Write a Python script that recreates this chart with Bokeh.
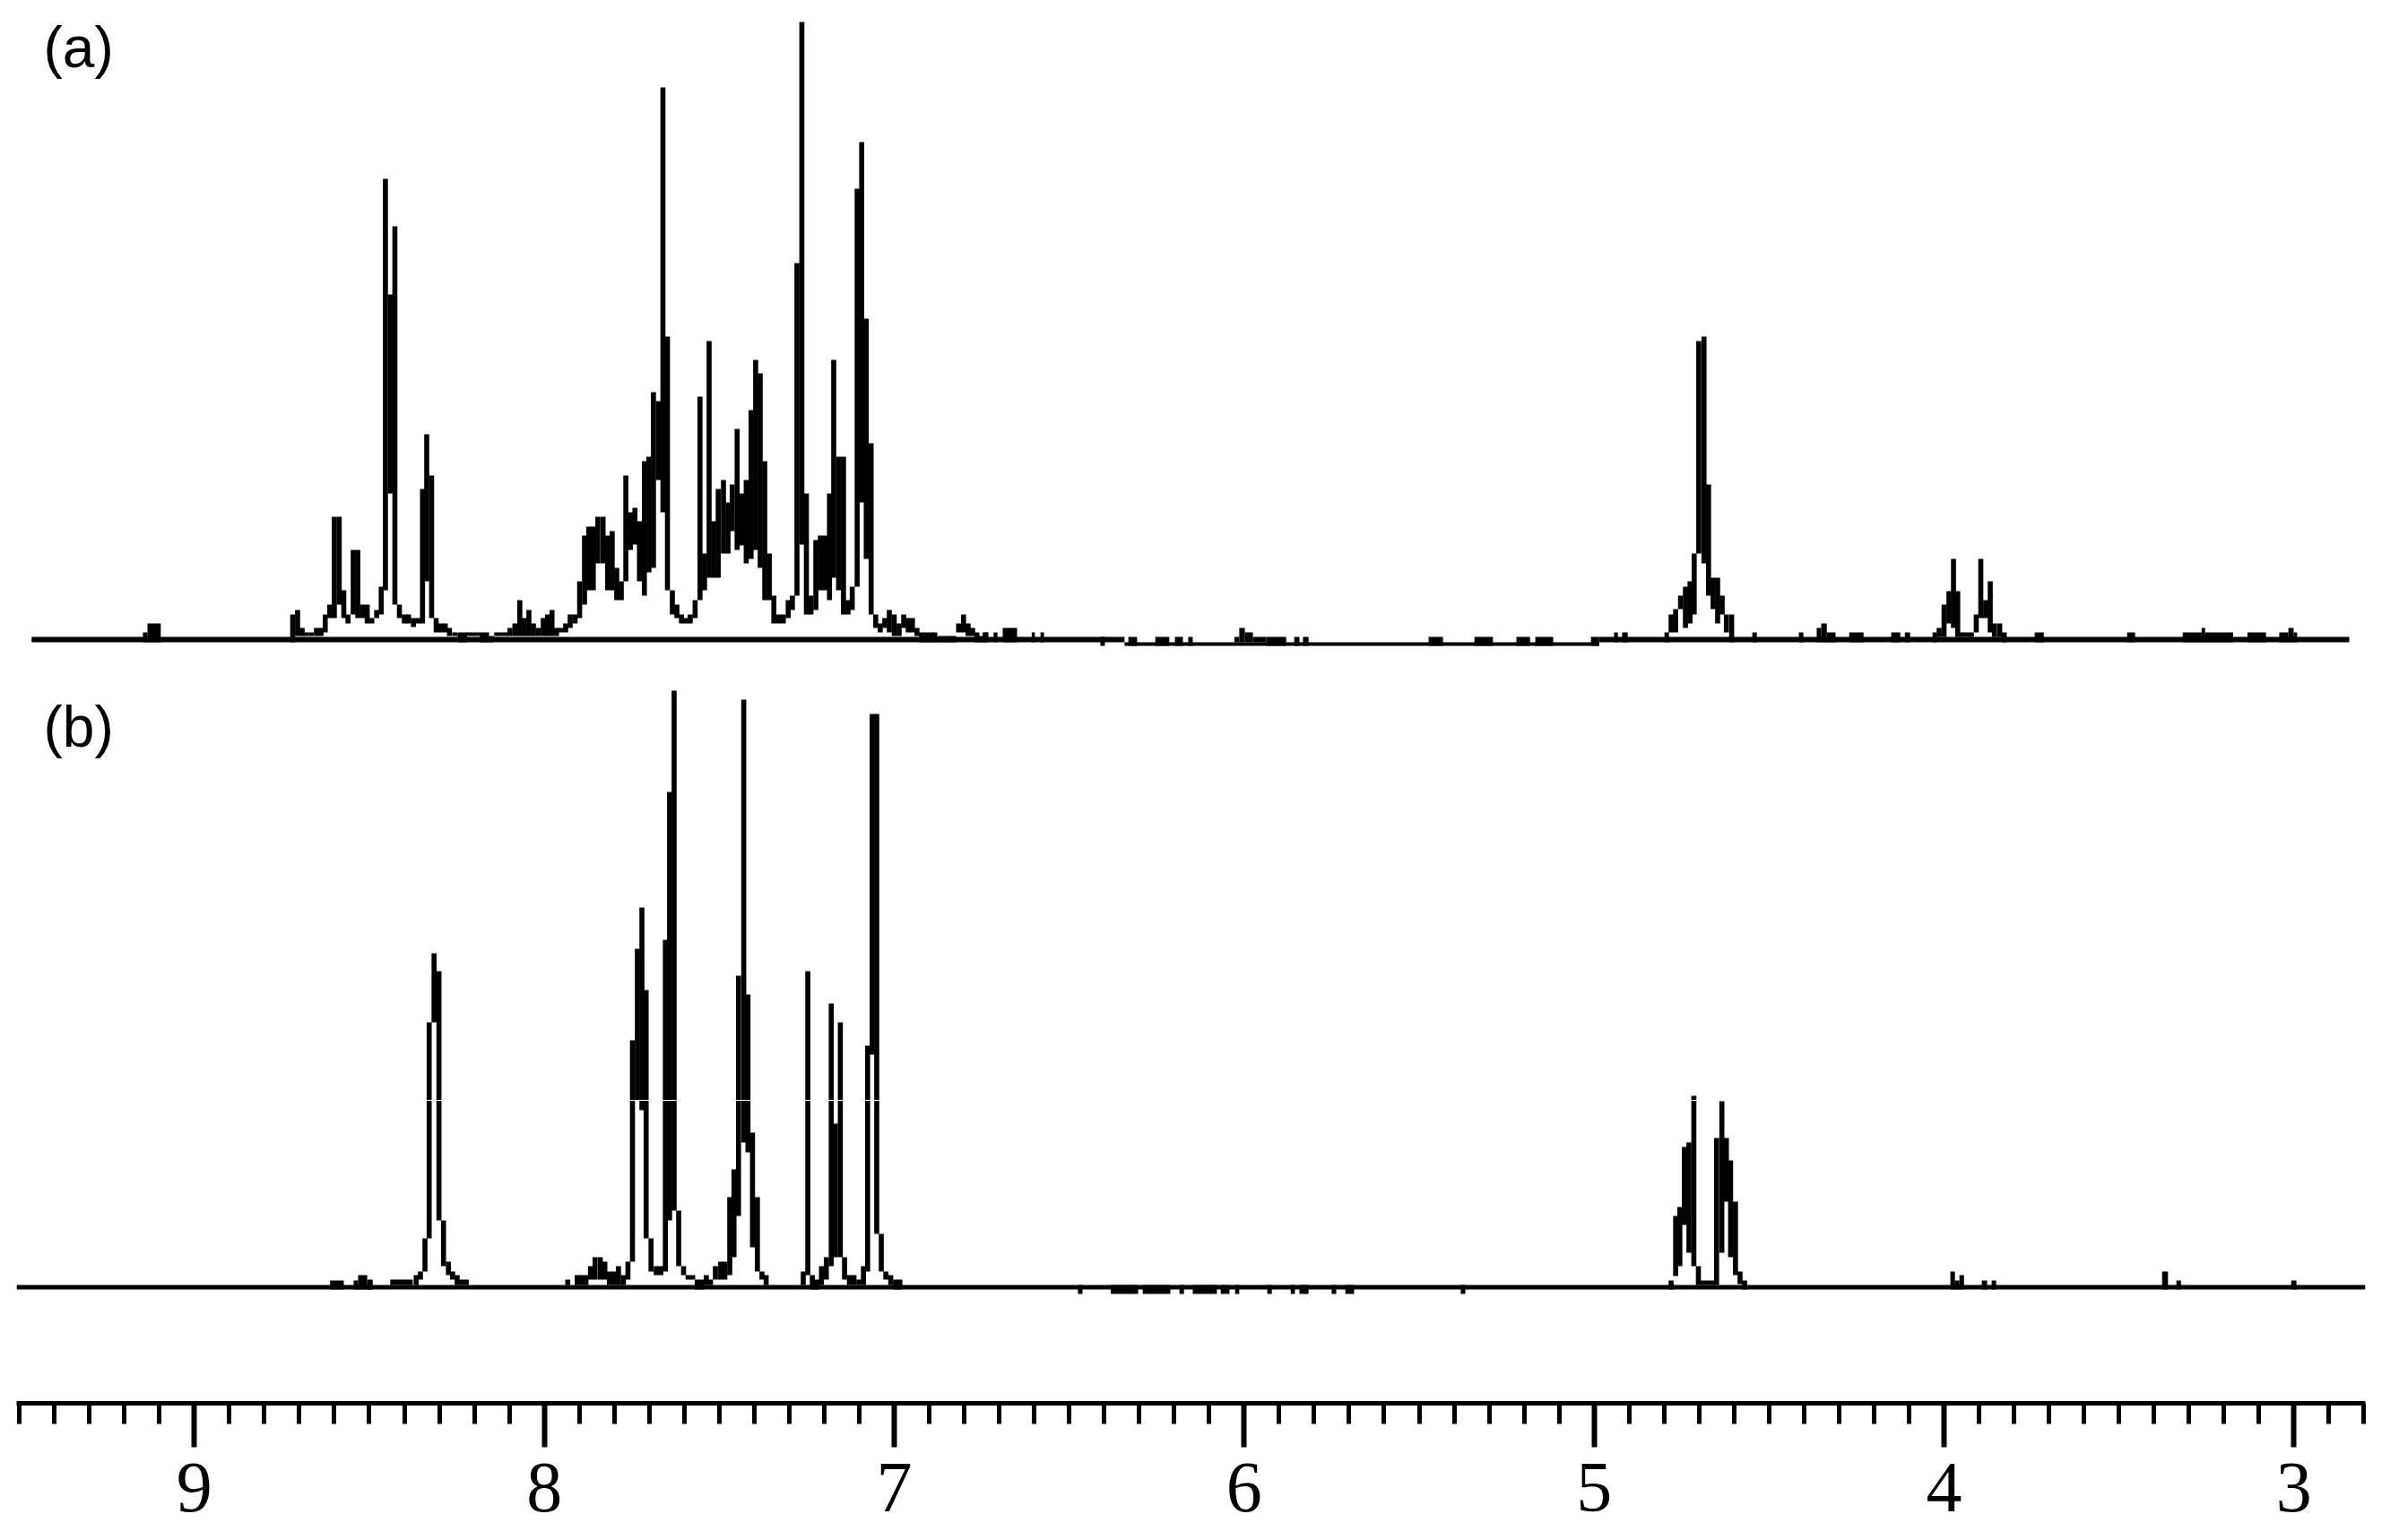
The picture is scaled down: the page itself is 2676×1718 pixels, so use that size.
from bokeh.plotting import figure
from bokeh.models import Range1d, FixedTicker
from bokeh.embed import file_html
from bokeh.resources import INLINE
from bokeh.core.properties import value

# ---- spectrum (a): resolved columns (chemical shift, upper and lower trace limit) ----
a_ppm = [
    8.719,8.705,8.692,8.680,8.666,8.651,8.638,8.626,8.613,8.600,
    8.586,8.573,8.561,8.546,8.533,8.519,8.506,8.493,8.479,8.466,
    8.454,8.440,8.427,8.414,8.400,8.388,8.374,8.360,8.348,8.336,
    8.322,8.309,8.296,8.283,8.271,8.256,8.241,8.228,8.216,8.203,
    8.190,8.177,
    8.165,8.151,8.136,8.123,8.110,8.098,8.084,8.070,8.057,8.044,
    8.031,8.017,8.003,7.991,7.978,7.965,7.952,7.939,7.926,7.912,
    7.899,7.885,7.873,7.860,7.847,7.832,7.819,7.806,7.793,7.780,
    7.767,7.754,7.741,7.728,7.714,7.701,7.688,7.674,7.661,7.648,
    7.634,7.621,7.608,7.595,7.583,7.569,7.555,7.542,7.529,7.516,
    7.503,7.488,7.475,7.463,7.449,7.436,7.423,7.409,7.396,7.383,
    7.370,7.357,7.344,7.330,7.317,7.303,7.291,7.278,7.264,7.251,
    7.238,7.224,7.211,7.198,7.185,7.173,7.159,7.145,7.132,7.120,
    7.106,7.093,7.080,7.066,7.053,7.040,7.027,7.014,7.000,6.986,
    6.973,6.960,6.948,6.935,6.922,6.909,6.896,6.884,6.868,6.855,
    6.842,6.830,6.816,6.802,6.789,6.776,6.764,6.751,6.740,
    4.780,4.767,4.753,4.739,4.726,4.714,4.701,4.686,4.673,4.660,
    4.647,4.634,4.622,4.607,
    4.014,4.000,3.986,3.973,3.961,3.948,3.935,3.922,3.908,3.895,
    3.881,3.868,3.856,3.841,3.828,
]
a_hi = [
    28,33,13,8,8,13,13,28,39,137,
    137,55,28,100,100,39,39,24,33,59,
    514,385,461,39,28,28,24,24,168,229,
    183,24,18,18,13,8,8,8,8,8,
    8,8,
    8,4,8,8,8,13,18,44,24,33,
    18,13,24,28,33,13,13,18,28,28,
    65,116,126,126,137,137,116,121,80,65,
    183,142,147,132,199,204,276,266,616,338,
    55,39,28,24,28,44,271,96,333,132,
    168,178,153,173,235,163,178,256,312,297,
    199,96,49,28,28,44,49,420,689,163,
    49,111,116,116,163,312,204,204,44,59,
    503,555,358,219,28,18,24,33,28,18,
    28,24,24,13,8,8,8,8,4,4,
    4,4,18,28,18,13,8,4,8,
    28,34,49,59,65,96,333,338,173,69,
    69,49,28,28,
    13,39,54,90,54,8,8,8,28,90,
    44,65,18,18,8,
]
a_lo = [
    -3,4,4,4,4,4,4,8,24,24,
    39,24,18,28,24,24,18,18,24,28,
    55,163,39,24,18,18,14,18,18,65,
    24,8,8,8,4,4,-3,-3,4,4,
    4,-3,
    -3,-3,4,4,4,4,4,4,4,4,
    4,4,4,4,4,4,8,8,13,18,
    24,39,55,55,85,85,55,55,44,44,
    65,100,106,65,49,75,80,178,142,55,
    28,24,18,18,18,24,44,55,69,69,
    69,96,96,121,100,105,85,90,100,80,
    44,44,18,18,18,24,33,49,106,28,
    28,33,55,55,44,69,55,28,28,33,
    59,153,90,28,13,8,13,8,4,4,
    13,8,8,4,-3,-3,-3,-3,-3,-3,
    -3,-3,8,8,4,4,-3,-3,-3,
    8,8,34,13,18,28,96,85,49,34,
    18,28,8,-3,
    3,3,18,13,3,3,3,3,8,24,
    24,8,3,3,-3,
]

# ---- spectrum (a): flat stretches of the trace, noise bumps and steps ----
a_run_start = [
    9.465,6.342,4.986,
    9.147,9.134,6.744,6.716,6.690,6.607,6.582,6.411,
    6.331,6.254,6.198,6.160,6.028,6.014,5.998,5.975,5.937,5.857,
    5.832,5.473,5.342,5.222,5.168,5.009,
    4.943,4.920,4.799,4.548,4.415,4.364,4.351,4.335,4.271,4.151,
    4.112,4.033,3.741,3.477,3.318,3.264,3.254,3.133,3.042,3.016,3.001,
]
a_run_end = [
    6.342,4.986,2.842,
    9.134,9.096,6.731,6.705,6.649,6.598,6.572,6.398,
    6.306,6.214,6.175,6.147,6.014,5.998,5.975,5.937,5.880,5.842,
    5.816,5.432,5.289,5.183,5.117,4.986,
    4.932,4.904,4.786,4.535,4.402,4.351,4.335,4.310,4.230,4.125,
    4.097,4.020,3.715,3.454,3.264,3.254,3.174,3.080,3.016,3.001,2.991,
]
a_run_hi = [
    3,-3,3,
    8,18,8,8,13,8,8,3,
    3,3,3,3,3,13,8,3,3,3,
    3,3,3,3,3,3,
    8,8,8,8,8,13,18,8,8,8,
    8,8,8,8,8,13,8,8,8,13,8,
]
a_run_lo = [
    -3,-7,-3,
    -3,-3,-3,-3,-3,-3,-3,-7,
    -7,-7,-7,-7,-3,-3,-3,-3,-7,-7,
    -7,-7,-7,-7,-7,-7,
    -3,-3,-3,-3,-3,-3,-3,-3,-3,-3,
    -3,-3,-3,-3,-3,-3,-3,-3,-3,-3,-3,
]

# ---- spectrum (b): resolved columns ----
b_ppm = [
    8.498,8.433,8.421,8.408,8.396,8.383,8.366,8.354,8.341,8.329,
    8.315,8.301,8.288,8.274,8.262,8.249,8.236,8.223,
    7.933,7.906,7.894,7.881,7.868,7.855,7.840,7.827,7.814,7.801,
    7.788,7.774,7.761,7.748,7.734,7.721,7.709,7.695,7.680,7.667,
    7.654,7.642,7.629,7.616,7.602,7.589,7.576,7.563,7.550,7.537,
    7.525,7.511,7.496,7.484,7.470,7.458,7.445,7.430,7.418,7.405,
    7.391,7.378,7.366,
    7.260,7.247,7.234,7.221,7.208,7.194,7.180,7.168,7.154,7.142,
    7.128,7.115,7.101,7.088,7.076,7.063,7.050,7.037,7.024,7.010,
    6.996,6.984,
    4.780,4.767,4.755,4.742,4.729,4.715,4.702,4.689,4.676,4.663,
    4.650,4.635,4.622,4.610,4.596,4.583,4.570,
]
b_hi = [
    8,8,8,8,8,8,13,17,54,295,
    372,352,74,28,17,13,8,8,
    8,13,13,13,23,33,33,28,17,17,
    23,13,28,275,377,423,331,54,23,23,
    387,552,665,85,23,13,13,8,8,13,
    8,23,28,28,100,131,347,655,326,172,
    100,17,13,
    17,352,13,8,23,33,316,182,295,33,
    13,13,8,23,269,639,639,59,17,13,
    8,8,
    7,79,89,156,161,213,23,7,7,7,
    166,207,166,141,95,17,7,
]
b_lo = [
    -3,2,2,2,2,2,2,8,17,54,
    295,74,23,13,8,2,2,2,
    2,2,2,2,8,8,8,8,2,2,
    2,2,8,28,208,197,54,17,13,13,
    17,74,85,23,13,8,8,-3,-3,2,
    2,8,8,8,13,33,79,161,150,44,
    17,8,2,
    2,13,-3,-3,2,8,23,33,33,8,
    2,2,2,2,17,259,59,17,8,2,
    -3,-3,
    -3,12,23,69,38,23,2,2,2,2,
    2,38,95,33,13,3,-3,
]

# ---- spectrum (b): flat stretches of the trace, noise bumps and dips ----
b_run_start = [
    9.508,
    8.612,8.545,8.532,8.506,
    6.475,6.381,6.290,6.185,6.147,6.067,6.026,5.934,5.867,5.842,
    5.750,5.711,5.381,
    3.982,3.969,3.956,3.892,3.864,3.377,3.336,3.008,
]
b_run_end = [
    2.796,
    8.573,8.532,8.506,8.491,
    6.462,6.303,6.211,6.172,6.078,6.042,6.014,5.921,5.855,5.816,
    5.737,5.686,5.368,
    3.969,3.956,3.943,3.877,3.851,3.360,3.323,2.993,
]
b_run_hi = [
    2,
    7,7,13,7,
    2,2,2,2,2,2,2,2,2,2,
    2,2,2,
    17,7,13,7,7,17,7,7,
]
b_run_lo = [
    -3,
    -3,-3,-3,-3,
    -8,-8,-8,-8,-8,-8,-8,-8,-8,-8,
    -8,-8,-8,
    -3,-3,-3,-3,-3,-3,-3,-3,
]

major_ticks = [3, 4, 5, 6, 7, 8, 9]
minor_ticks = [round(2.8 + 0.1 * i, 1) for i in range(68)]
panel_labels = ["(a)", "(b)"]

for name, n, others in [
    ("a", len(a_ppm), (a_hi, a_lo)),
    ("ar", len(a_run_start), (a_run_end, a_run_hi, a_run_lo)),
    ("b", len(b_ppm), (b_hi, b_lo)),
    ("br", len(b_run_start), (b_run_end, b_run_hi, b_run_lo)),
]:
    for o in others:
        assert len(o) == n, (name, n, len(o))

OFFSET_A, OFFSET_B = 852, 130
HALF = 0.0072

p = figure(width=2660, height=1702, output_backend="svg", toolbar_location=None,
           x_range=Range1d(9.508, 2.796), y_range=Range1d(0, 1557),
           y_axis_location=None, min_border_left=18, min_border_right=22,
           min_border_top=8, min_border_bottom=137, outline_line_color=None,
           background_fill_color="white", border_fill_color="white")
p.grid.visible = False

for ppm, hi, lo, s, e, rh, rl, off in [
    (a_ppm, a_hi, a_lo, a_run_start, a_run_end, a_run_hi, a_run_lo, OFFSET_A),
    (b_ppm, b_hi, b_lo, b_run_start, b_run_end, b_run_hi, b_run_lo, OFFSET_B),
]:
    p.quad(left=s, right=e, top=[v + off for v in rh], bottom=[v + off for v in rl],
           fill_color="black", line_color=None)
    p.quad(left=[v + HALF for v in ppm], right=[v - HALF for v in ppm],
           top=[v + off for v in hi], bottom=[v + off for v in lo],
           fill_color="black", line_color=None)

# the thin scan seam crossing the peaks of (b)
p.segment(x0=[8.6], x1=[4.5], y0=[338], y1=[338], line_color="white", line_width=1)

p.text(x=[9.431, 9.431], y=[1513, 755], text=panel_labels, text_font=value("Liberation Sans"),
       text_font_size="64px", text_color="black", text_baseline="middle", text_align="left")

ax = p.xaxis[0]
ax.ticker = FixedTicker(ticks=major_ticks, minor_ticks=minor_ticks)
ax.axis_line_color = "black"
ax.axis_line_width = 5
ax.major_tick_line_color = "black"
ax.minor_tick_line_color = "black"
ax.major_tick_line_width = 6
ax.minor_tick_line_width = 5
ax.major_tick_in = 0
ax.major_tick_out = 49
ax.minor_tick_in = 0
ax.minor_tick_out = 23
ax.major_label_text_font = "Liberation Serif"
ax.major_label_text_font_size = "80px"
ax.major_label_text_color = "black"
ax.major_label_standoff = 18

open("out.html", "w").write(file_html(p, INLINE))
